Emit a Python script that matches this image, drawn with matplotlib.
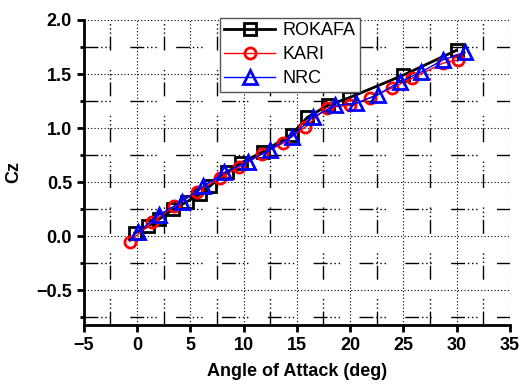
import matplotlib
matplotlib.use("Agg")
import matplotlib.pyplot as plt
from matplotlib.ticker import MultipleLocator

plt.rcParams['font.family'] = ['Liberation Sans', 'DejaVu Sans']

rokafa_x = [-0.2, 1.0, 2.1, 3.4, 4.7, 5.9, 6.8, 8.4, 9.8, 11.8, 14.5, 16.0, 17.9, 19.9, 25.0, 30.0]
rokafa_y = [0.03, 0.09, 0.16, 0.25, 0.32, 0.39, 0.46, 0.59, 0.68, 0.78, 0.94, 1.10, 1.21, 1.28, 1.49, 1.72]

kari_x = [-0.7, 1.4, 3.5, 5.6, 7.8, 9.6, 11.7, 13.7, 15.8, 17.8, 20.0, 21.9, 23.9, 25.8, 28.7, 30.1]
kari_y = [-0.05, 0.13, 0.28, 0.41, 0.54, 0.64, 0.76, 0.86, 1.01, 1.19, 1.21, 1.28, 1.37, 1.46, 1.60, 1.63]

nrc_x = [0.1, 2.1, 4.2, 6.2, 8.2, 10.4, 12.5, 14.5, 16.5, 18.6, 20.6, 22.6, 24.7, 26.7, 28.7, 30.8]
nrc_y = [0.04, 0.20, 0.32, 0.46, 0.59, 0.69, 0.80, 0.92, 1.10, 1.21, 1.23, 1.31, 1.43, 1.52, 1.63, 1.70]

fig = plt.figure(figsize=(5.24, 3.84), dpi=100)
ax = fig.add_axes([0.160, 0.154, 0.813, 0.794])

ax.plot(rokafa_x, rokafa_y, color='black', lw=2, marker='s', ms=8, mfc='none',
        mec='black', mew=2, label='ROKAFA', zorder=3)
ax.plot(kari_x, kari_y, color='red', lw=1, marker='o', ms=8, mfc='none',
        mec='red', mew=2, label='KARI', zorder=4)
ax.plot(nrc_x, nrc_y, color='blue', lw=1, marker='^', ms=10, mfc='none',
        mec='blue', mew=2, label='NRC', zorder=5)

ax.set_xlim(-5, 35)
ax.set_ylim(-0.82, 2.0)
ax.xaxis.set_major_locator(MultipleLocator(5))
ax.xaxis.set_minor_locator(MultipleLocator(2.5))
ax.yaxis.set_major_locator(MultipleLocator(0.5))
ax.yaxis.set_minor_locator(MultipleLocator(0.25))

ax.grid(which='major', color='black', linestyle=(0, (1, 2)), linewidth=0.8)
ax.grid(which='minor', color='black', linestyle=(0, (10, 2, 1, 2, 1, 2, 1, 14)), linewidth=1.0)
ax.set_axisbelow(True)

for s in ['top', 'right']:
    ax.spines[s].set_visible(False)
for s in ['left', 'bottom']:
    ax.spines[s].set_linewidth(2)

ax.tick_params(which='major', direction='out', length=5, width=2, labelsize=13)
ax.tick_params(which='minor', direction='out', length=3, width=2)
ax.tick_params(axis='x', which='minor', length=0)
for lab in ax.get_xticklabels() + ax.get_yticklabels():
    lab.set_fontweight('bold')

ax.set_xlabel('Angle of Attack (deg)', fontsize=13, fontweight='bold', labelpad=7)
ax.set_ylabel('Cz', fontsize=13, fontweight='bold', labelpad=10)

leg = ax.legend(loc='upper left', bbox_to_anchor=(0.319, 1.008), fontsize=13,
                frameon=True, fancybox=False, edgecolor='#555555', framealpha=1,
                borderpad=0.25, borderaxespad=0, handlelength=2.8, labelspacing=0.4,
                handletextpad=0.4)
leg.get_frame().set_linewidth(1)

fig.savefig('out.png', dpi=100)
